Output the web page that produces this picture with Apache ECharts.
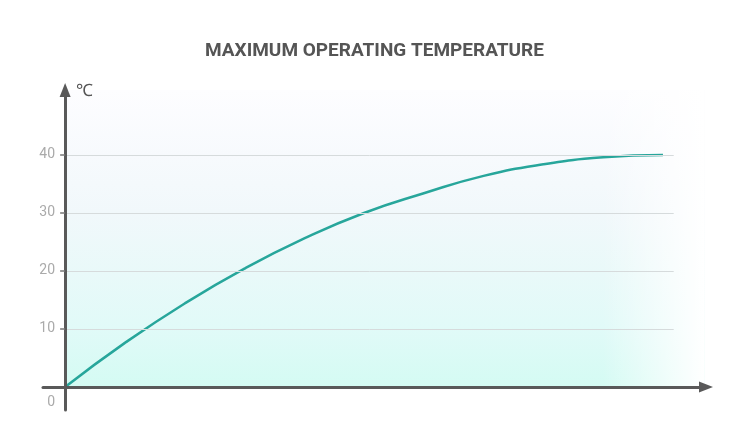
<!DOCTYPE html>
<html>
<head>
<meta charset="utf-8">
<script src="https://cdn.jsdelivr.net/npm/echarts@6/dist/echarts.min.js"></script>
<style>html,body{margin:0;padding:0;background:#fff}#c{width:749px;height:444px}</style>
</head>
<body>
<div id="c"></div>
<script>
// data
const xValues = [0, 10, 20, 30, 40, 50, 60, 70, 80, 90, 100];
const tempValues = [0, 7.6, 14.4, 20.4, 25.6, 30.0, 33.4, 36.4, 38.4, 39.6, 40.0];
const yLabelValues = [0, 10, 20, 30, 40];
const yTickValues = [10, 20, 30, 40];
const gridLineValues = [10, 20, 30, 40];
const gridLineEnd = 101.8;
const bgExtent = [[0, 51.2], [107, 51.2]];
const titleText = 'MAXIMUM OPERATING TEMPERATURE';
const unitText = '℃';

const chart = echarts.init(document.getElementById('c'));
const axisLineStyle = { color: '#595959', width: 3 };
chart.setOption({
  animation: false,
  textStyle: { fontFamily: 'Roboto' },
  title: {
    text: titleText, left: 'center', top: 37,
    textStyle: { fontFamily: 'Roboto', fontWeight: 'bold', fontSize: 19, color: '#555' }
  },
  grid: { left: 43, right: 43, top: 90, bottom: 34 },
  xAxis: {
    type: 'value', min: -3.7, max: 107.2, z: 10,
    axisLine: { onZero: true, symbol: ['none', 'triangle'], symbolSize: [11, 14], lineStyle: axisLineStyle },
    axisTick: { show: false }, axisLabel: { show: false }, splitLine: { show: false }
  },
  yAxis: {
    type: 'value', min: -3.97, max: 51.2, z: 10,
    name: unitText, nameLocation: 'end', nameGap: -2,
    nameTextStyle: { align: 'left', verticalAlign: 'middle', padding: [0, 0, 0, 11], fontSize: 17, color: '#555' },
    axisLine: { onZero: true, symbol: ['none', 'triangle'], symbolSize: [11, 14], lineStyle: axisLineStyle },
    axisTick: { show: true, customValues: yTickValues, length: 5, lineStyle: { color: '#777', width: 1.5 } },
    axisLabel: {
      customValues: yLabelValues, color: '#aaa', fontSize: 14, margin: -12,
      formatter: v => v === 0 ? '{z|0}' : String(v),
      rich: { z: { padding: [32, 0, 0, 0], color: '#aaa', fontSize: 14 } }
    },
    splitLine: { show: false }
  },
  series: [
    {
      type: 'line', data: bgExtent, silent: true, z: 0, showSymbol: false,
      lineStyle: { opacity: 0 },
      areaStyle: {
        opacity: 1,
        color: new echarts.graphic.LinearGradient(0, 0, 0, 1, [
          { offset: 0, color: '#fdfdff' },
          { offset: 0.22, color: '#f7fafd' },
          { offset: 0.41, color: '#f1f8fb' },
          { offset: 0.61, color: '#e9f9f9' },
          { offset: 0.8, color: '#e1faf8' },
          { offset: 1, color: '#d4fbf3' }
        ])
      }
    },
    {
      type: 'line', data: bgExtent, silent: true, z: 1, showSymbol: false,
      lineStyle: { opacity: 0 },
      areaStyle: {
        opacity: 1,
        color: new echarts.graphic.LinearGradient(0, 0, 1, 0, [
          { offset: 0, color: 'rgba(255,255,255,0)' },
          { offset: 0.84, color: 'rgba(255,255,255,0)' },
          { offset: 1, color: 'rgba(255,255,255,1)' }
        ])
      },
      markLine: {
        silent: true, symbol: 'none', label: { show: false },
        lineStyle: { color: '#d6dbdc', width: 1, type: 'solid' },
        data: gridLineValues.map(v => [{ coord: [0, v] }, { coord: [gridLineEnd, v] }])
      }
    },
    {
      type: 'line', smooth: true, z: 3, showSymbol: false,
      data: xValues.map((x, i) => [x, tempValues[i]]),
      lineStyle: { color: '#27a69b', width: 2.5 }
    }
  ]
});
</script>
</body>
</html>
